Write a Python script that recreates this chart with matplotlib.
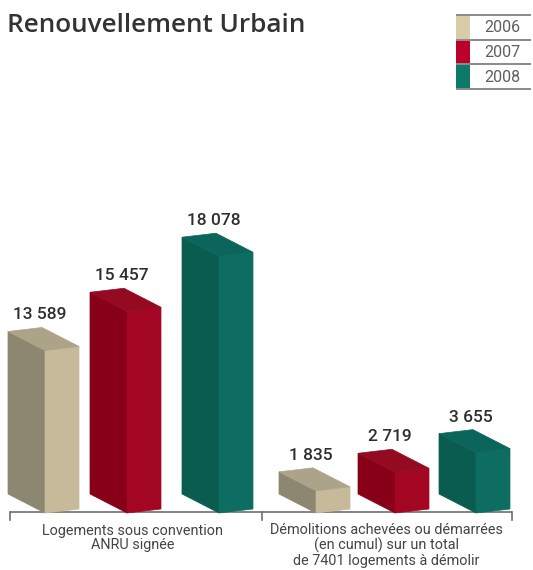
import matplotlib
matplotlib.use("Agg")
import matplotlib.pyplot as plt
from matplotlib.patches import Polygon, Rectangle

# ---- data ----
title = "Renouvellement Urbain"
years = ["2006", "2007", "2008"]
categories = ["Logements sous convention\nANRU signée",
              "Démolitions achevées ou démarrées\n(en cumul) sur un total\nde 7401 logements à démolir"]
logements = [13589, 15457, 18078]
demolitions = [1835, 2719, 3655]

# ---- style / layout ----
W, H = 533, 570
face_left = ["#8d8670", "#870017", "#0a5b50"]
face_right = ["#c6ba9a", "#a30623", "#0e6d61"]
face_top = ["#aca389", "#930a21", "#0c655a"]
legend_cols = ["#d8cba8", "#bb0029", "#0b7a68"]
front_x = [[45, 127, 219], [316, 395, 476]]
group_base = [5850, 780]    # visual baseline of each group (truncated scale)
k = 0.021                   # px per unit
A = (37, 19)                # left face vector (dx, dy down)
B = (34, -4)                # right face vector
base_y = 513

plt.rcParams['font.family'] = ['Roboto', 'DejaVu Sans']
fig = plt.figure(figsize=(W / 100, H / 100), dpi=100)
ax = fig.add_axes([0, 0, 1, 1])
ax.set_xlim(0, W)
ax.set_ylim(H, 0)
ax.axis('off')

def fmt(v):
    return f"{v:,}".replace(",", " ")

for g, vals in enumerate([logements, demolitions]):
    for i, v in enumerate(vals):
        h = (v - group_base[g]) * k
        fx, fy = front_x[g][i], base_y
        L = (fx - A[0], fy - A[1])
        R = (fx + B[0], fy + B[1])
        Lt = (L[0], L[1] - h)
        Ft = (fx, fy - h)
        Rt = (R[0], R[1] - h)
        Bt = (L[0] + B[0], L[1] + B[1] - h)
        ax.add_patch(Polygon([L, (fx, fy), Ft, Lt], closed=True, fc=face_left[i], ec=face_left[i], lw=0.5, zorder=3))
        ax.add_patch(Polygon([(fx, fy), R, Rt, Ft], closed=True, fc=face_right[i], ec=face_right[i], lw=0.5, zorder=3))
        ax.add_patch(Polygon([Lt, Ft, Rt, Bt], closed=True, fc=face_top[i], ec=face_top[i], lw=0.5, zorder=3))
        ax.text(Bt[0] - 2, Bt[1] - 8, fmt(v), ha='center', va='baseline',
                fontsize=12.5, color='#2e2e2e', fontweight='medium', zorder=4)

# axis bracket
ax.plot([10, 512], [512, 512], color='#6e6e6e', lw=1.2, zorder=2, solid_capstyle='butt')
for tx in [10, 262, 512]:
    ax.plot([tx, tx], [512, 520], color='#6e6e6e', lw=1.2, zorder=2)

# category labels
ax.text(133, 523.5, categories[0], ha='center', va='top', fontsize=10.4,
        color='#444444', linespacing=1.05)
ax.text(386, 523.5, categories[1], ha='center', va='top', fontsize=10.4,
        color='#444444', linespacing=1.05)

# title
ax.text(7, 25, title, ha='left', va='center', fontsize=18.8, color='#333333',
        fontweight='semibold', family=['Open Sans', 'DejaVu Sans'])

# legend
rows = [15, 40, 64, 89]
for i, y in enumerate(years):
    ax.add_patch(Rectangle((456, rows[i]), 14, rows[i + 1] - rows[i], fc=legend_cols[i], ec='none', zorder=2))
    ax.text(502, (rows[i] + rows[i + 1]) / 2 + 0.5, y, ha='center', va='center',
            fontsize=11.5, color='#5f5f5f')
for y in rows:
    ax.plot([456, 531], [y, y], color='#8a8a8a', lw=1.4, zorder=3, solid_capstyle='butt')

fig.savefig("out.png", dpi=100)
